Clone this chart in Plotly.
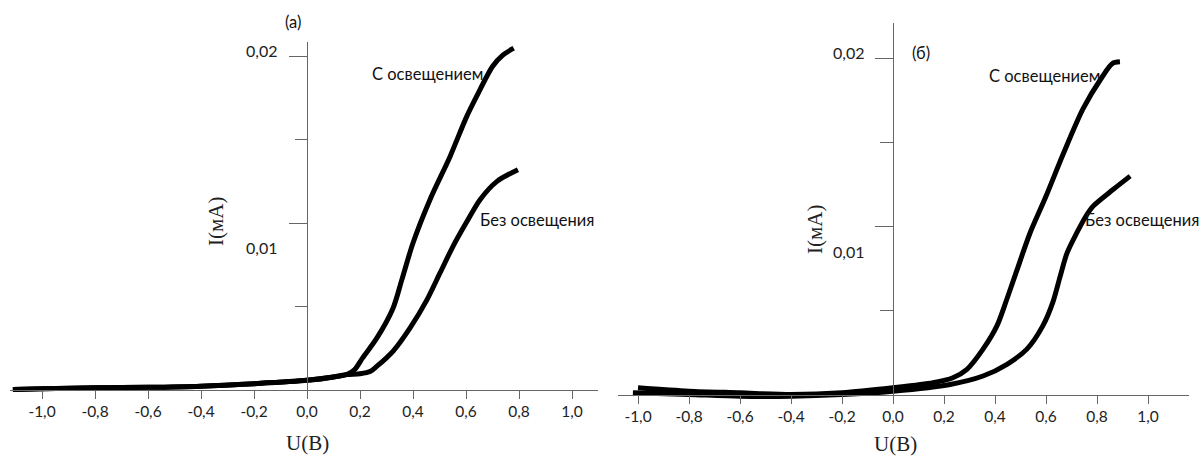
import plotly.graph_objects as go

# ---------------- data ----------------
# Panel (a)
a_light_u = [-1.11, -1.0, -0.8, -0.6, -0.4, -0.2, 0.0, 0.1, 0.15, 0.18, 0.21, 0.264, 0.325, 0.358, 0.40, 0.464, 0.54, 0.60, 0.64, 0.70, 0.74, 0.78]
a_light_i = [0.0, 0.00004, 0.0001, 0.00013, 0.0002, 0.00035, 0.00055, 0.00075, 0.0009, 0.0012, 0.0019, 0.0031, 0.0049, 0.0066, 0.0088, 0.0114, 0.0140, 0.0163, 0.0176, 0.0194, 0.0201, 0.0205]
a_dark_u = [-1.11, -1.0, -0.8, -0.6, -0.4, -0.2, 0.0, 0.1, 0.15, 0.2, 0.24, 0.264, 0.30, 0.325, 0.389, 0.453, 0.502, 0.551, 0.604, 0.653, 0.717, 0.796]
a_dark_i = [0.0, 0.00004, 0.0001, 0.00013, 0.0002, 0.00035, 0.00055, 0.00075, 0.0009, 0.00095, 0.0011, 0.0014, 0.0019, 0.0023, 0.0037, 0.0054, 0.0070, 0.0086, 0.0101, 0.0114, 0.0125, 0.0132]

# Panel (б)
b_light_u = [-1.0, -0.8, -0.6, -0.4, -0.2, 0.0, 0.157, 0.235, 0.29, 0.353, 0.408, 0.447, 0.486, 0.537, 0.60, 0.667, 0.745, 0.82, 0.86, 0.89]
b_light_i = [0.0004, 0.0002, 0.0001, 0.0, 0.0001, 0.0004, 0.0007, 0.0010, 0.0015, 0.0027, 0.0041, 0.0057, 0.0074, 0.0096, 0.0118, 0.0143, 0.0170, 0.0189, 0.0197, 0.0198]
b_dark_u = [-1.02, -0.8, -0.6, -0.4, -0.2, 0.0, 0.224, 0.353, 0.447, 0.525, 0.588, 0.627, 0.655, 0.682, 0.72, 0.76, 0.784, 0.863, 0.93]
b_dark_i = [0.0001, 0.0, -0.0001, -0.0001, 0.0, 0.0002, 0.0006, 0.0011, 0.0018, 0.0027, 0.0041, 0.0055, 0.0070, 0.0084, 0.0096, 0.0107, 0.0112, 0.0122, 0.0130]

x_tick_vals = [-1.0, -0.8, -0.6, -0.4, -0.2, 0.0, 0.2, 0.4, 0.6, 0.8, 1.0]
x_tick_text = ["-1,0", "-0,8", "-0,6", "-0,4", "-0,2", "0,0", "0,2", "0,4", "0,6", "0,8", "1,0"]
y_major = [0.01, 0.02]
y_minor = [0.005, 0.015]
y_label_text = ["0,01", "0,02"]

label_light = "С освещением"
label_dark = "Без освещения"

# ---------------- figure ----------------
W, H = 1203, 456
AX = "#666666"
SANS = "Lato, 'Open Sans', sans-serif"
SERIF = "'Liberation Serif', 'DejaVu Serif', serif"

fig = go.Figure()
line = dict(color="black", width=5, shape="spline", smoothing=0.8)
fig.add_trace(go.Scatter(x=a_light_u, y=a_light_i, mode="lines", line=line, xaxis="x", yaxis="y"))
fig.add_trace(go.Scatter(x=a_dark_u, y=a_dark_i, mode="lines", line=line, xaxis="x", yaxis="y"))
fig.add_trace(go.Scatter(x=b_light_u, y=b_light_i, mode="lines", line=line, xaxis="x2", yaxis="y2"))
fig.add_trace(go.Scatter(x=b_dark_u, y=b_dark_i, mode="lines", line=line, xaxis="x2", yaxis="y2"))


def xax(dom_px, x0_px, scale, y0_px):
    return dict(
        domain=[dom_px[0] / W, dom_px[1] / W],
        range=[(dom_px[0] - x0_px) / scale, (dom_px[1] - x0_px) / scale],
        anchor="free", position=(H - y0_px) / H,
        showline=True, linecolor=AX, linewidth=1.3,
        ticks="outside", ticklen=8, tickcolor=AX, tickwidth=1.3,
        tickvals=x_tick_vals, ticktext=x_tick_text,
        tickfont=dict(family=SANS, size=15.5, color="#222"),
        showgrid=False, zeroline=False, fixedrange=True,
    )


def yax(dom_px, y0_px, scale, x0_px, major_len, minor_len):
    return dict(
        domain=[(H - dom_px[1]) / H, (H - dom_px[0]) / H],
        range=[(y0_px - dom_px[1]) / scale, (y0_px - dom_px[0]) / scale],
        anchor="free", position=x0_px / W,
        showline=True, linecolor=AX, linewidth=1.3,
        ticks="outside", ticklen=major_len, tickcolor=AX, tickwidth=1.3,
        tickvals=y_major, showticklabels=False,
        minor=dict(tickmode="array", tickvals=y_minor, ticks="outside", ticklen=minor_len,
                   tickcolor=AX, tickwidth=1.3, showgrid=False),
        showgrid=False, zeroline=False, fixedrange=True,
    )


fig.update_layout(
    width=W, height=H,
    margin=dict(l=0, r=0, t=0, b=0),
    paper_bgcolor="white", plot_bgcolor="white",
    showlegend=False,
    xaxis=xax((10, 598), 307, 265, 389.5),
    yaxis=yax((42, 395), 389.5, 16650, 307, 18, 12),
    xaxis2=xax((618, 1189), 893, 255, 394.5),
    yaxis2=yax((23, 400), 394.5, 16800, 893, 18, 13),
)


def P(px, py, text, font, xanchor="center", **kw):
    return dict(x=px / W, y=(H - py) / H, xref="paper", yref="paper", text=text,
                font=font, showarrow=False, xanchor=xanchor, yanchor="middle", **kw)


txt = dict(family=SANS, size=16.5, color="#111")
num = dict(family=SANS, size=16, color="#222")
ser_x = dict(family=SERIF, size=21, color="#222")
ser_y = dict(family=SERIF, size=21, color="#222")

ann = [
    # panel (a)
    P(427, 74, label_light, txt),
    P(537, 220, label_dark, txt),
    P(293, 22, "(a)", txt),
    P(279, 50, y_label_text[1], num, xanchor="right"),
    P(279, 247, y_label_text[0], num, xanchor="right"),
    P(307, 443, "U(B)", ser_x),
    P(216, 222, "I(мА)", ser_y, textangle=-90),
    # panel (б)
    P(1044, 76, label_light, txt),
    P(1201, 220, label_dark, txt, xanchor="right"),
    P(921, 53, "(б)", txt),
    P(866, 53, y_label_text[1], num, xanchor="right"),
    P(866, 252, y_label_text[0], num, xanchor="right"),
    P(895, 444, "U(B)", ser_x),
    P(815, 230, "I(мА)", ser_y, textangle=-90),
]
fig.update_layout(annotations=ann)

fig.write_html("out.html", config={"displayModeBar": False})
